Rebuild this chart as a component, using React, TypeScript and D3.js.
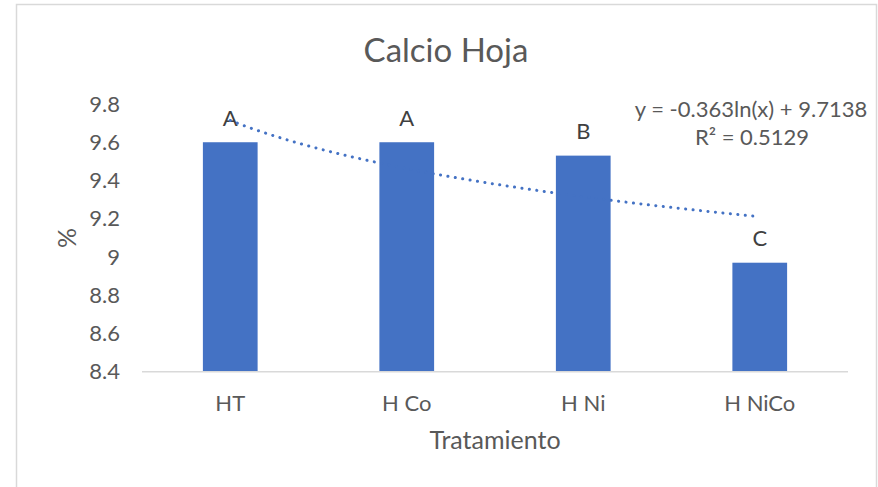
import { useEffect, useRef } from 'react';
import * as d3 from 'd3';

const categories = ['HT', 'H Co', 'H Ni', 'H NiCo'];
const values = [9.6, 9.6, 9.53, 8.97];
const letters = ['A', 'A', 'B', 'C'];
const yTicks = [8.4, 8.6, 8.8, 9, 9.2, 9.4, 9.6, 9.8];
// log trendline: y = a ln(x) + b
const trendA = -0.363;
const trendB = 9.7138;
const eqText = 'y = -0.363ln(x) + 9.7138';
const r2Text = 'R² = 0.5129';

const App = () => {
  const svgRef = useRef<SVGSVGElement>(null);

  useEffect(() => {
    const svg = d3.select(svgRef.current);
    svg.selectAll('*').remove();

    const width = 878;
    const height = 487;
    const font = 'Lato, "Open Sans", sans-serif';
    const textColor = '#595959';
    const blue = '#4472C4';

    svg.attr('width', width).attr('height', height).style('display', 'block');

    // chart border
    svg
      .append('rect')
      .attr('x', 16.5)
      .attr('y', 4.5)
      .attr('width', 860)
      .attr('height', 500)
      .attr('fill', 'white')
      .attr('stroke', '#d9d9d9')
      .attr('stroke-width', 1.5);

    const left = 142;
    const right = 848;
    const top = 104;
    const bottom = 371.7;

    const x = d3.scaleBand().domain(categories).range([left, right]).paddingInner(0.69).paddingOuter(0.345);
    const y = d3.scaleLinear().domain([8.4, 9.8]).range([bottom, top]);

    // title
    svg
      .append('text')
      .attr('x', 446)
      .attr('y', 50)
      .attr('dy', '0.35em')
      .attr('text-anchor', 'middle')
      .style('font-family', font)
      .style('font-size', '33px')
      .style('fill', textColor)
      .text('Calcio Hoja');

    // bars
    svg
      .selectAll('.bar')
      .data(values)
      .enter()
      .append('rect')
      .attr('class', 'bar')
      .attr('x', (d, i) => x(categories[i])!)
      .attr('y', d => y(d))
      .attr('width', x.bandwidth())
      .attr('height', d => bottom - y(d))
      .attr('fill', blue);

    // baseline
    svg
      .append('line')
      .attr('x1', left)
      .attr('x2', right)
      .attr('y1', bottom)
      .attr('y2', bottom)
      .attr('stroke', '#d9d9d9')
      .attr('stroke-width', 1.5);

    // y tick labels
    svg
      .selectAll('.ytick')
      .data(yTicks)
      .enter()
      .append('text')
      .attr('class', 'ytick')
      .attr('x', 120)
      .attr('y', d => y(d))
      .attr('dy', '0.35em')
      .attr('text-anchor', 'end')
      .style('font-family', font)
      .style('font-size', '22px')
      .style('fill', textColor)
      .text(d => String(d));

    // x tick labels
    svg
      .selectAll('.xtick')
      .data(categories)
      .enter()
      .append('text')
      .attr('class', 'xtick')
      .attr('x', d => x(d)! + x.bandwidth() / 2)
      .attr('y', 403)
      .attr('dy', '0.35em')
      .attr('text-anchor', 'middle')
      .style('font-family', font)
      .style('font-size', '22px')
      .style('fill', textColor)
      .text(d => d);

    // letters
    svg
      .selectAll('.letter')
      .data(letters)
      .enter()
      .append('text')
      .attr('class', 'letter')
      .attr('x', (d, i) => x(categories[i])! + x.bandwidth() / 2)
      .attr('y', (d, i) => y(values[i]) - 24)
      .attr('dy', '0.35em')
      .attr('text-anchor', 'middle')
      .style('font-family', font)
      .style('font-size', '22px')
      .style('fill', '#404040')
      .text(d => d);

    // trendline
    const pts = d3.range(0, 61).map(k => 1 + (k * 3) / 60);
    const line = d3
      .line<number>()
      .x(t => x(categories[0])! + x.bandwidth() / 2 + (t - 1) * x.step())
      .y(t => y(trendA * Math.log(t) + trendB));
    svg
      .append('path')
      .attr('d', line(pts))
      .attr('fill', 'none')
      .attr('stroke', blue)
      .attr('stroke-width', 3)
      .attr('stroke-linecap', 'round')
      .attr('stroke-dasharray', '0.1 7.4');

    // equation
    svg
      .append('text')
      .attr('x', 751)
      .attr('y', 109)
      .attr('dy', '0.35em')
      .attr('text-anchor', 'middle')
      .style('font-family', font)
      .style('font-size', '22px')
      .style('fill', textColor)
      .text(eqText);
    svg
      .append('text')
      .attr('x', 752)
      .attr('y', 137)
      .attr('dy', '0.35em')
      .attr('text-anchor', 'middle')
      .style('font-family', font)
      .style('font-size', '22px')
      .style('fill', textColor)
      .text(r2Text);

    // axis titles
    svg
      .append('text')
      .attr('transform', 'translate(67,238) rotate(-90)')
      .attr('dy', '0.35em')
      .attr('text-anchor', 'middle')
      .style('font-family', font)
      .style('font-size', '25px')
      .style('fill', textColor)
      .text('%');
    svg
      .append('text')
      .attr('x', 495)
      .attr('y', 440)
      .attr('dy', '0.35em')
      .attr('text-anchor', 'middle')
      .style('font-family', font)
      .style('font-size', '25px')
      .style('fill', textColor)
      .text('Tratamiento');
  }, []);

  return <svg ref={svgRef} style={{ position: 'absolute', left: 0, top: 0 }}></svg>;
};

export default App;
